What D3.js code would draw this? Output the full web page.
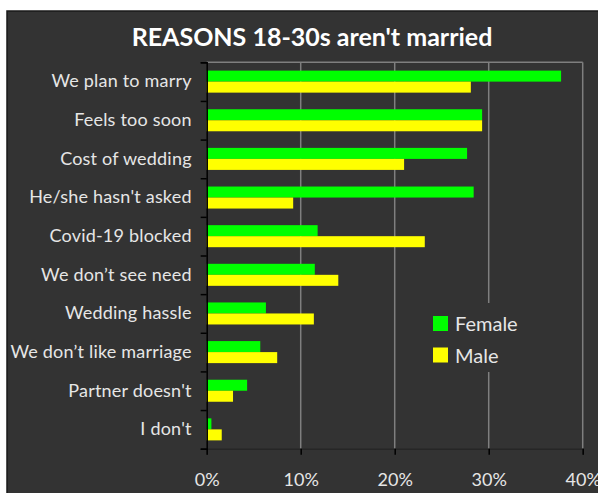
<!DOCTYPE html>
<html>
<head>
<meta charset="utf-8">
<script src="https://cdn.jsdelivr.net/npm/d3@7"></script>
<style>
  body { margin: 0; background: #fff; }
  text { font-family: Lato, 'Open Sans', sans-serif; }
</style>
</head>
<body>
<svg id="chart" width="598" height="493"></svg>
<script>
const categories = [
  'We plan to marry', 'Feels too soon', 'Cost of wedding', "He/she hasn't asked",
  'Covid-19 blocked', 'We don\u2019t see need ', 'Wedding hassle',
  'We don\u2019t like marriage', "Partner doesn't", "I don't"
]
const female = [37.7, 29.3, 27.7, 28.4, 11.8, 11.5, 6.3, 5.7, 4.3, 0.5]
const male = [28.1, 29.3, 21.0, 9.2, 23.2, 14.0, 11.4, 7.5, 2.8, 1.6]
const xTicks = [0, 10, 20, 30, 40]
const seriesNames = ['Female', 'Male']
const colors = { Female: '#00ff00', Male: '#ffff00' }

const svg = d3.select('#chart')

const plotLeft = 206.7
const plotRight = 582.7
const plotTop = 62.3
const plotBottom = 448.7

svg.append('rect')
  .attr('x', 7).attr('y', 11)
  .attr('width', 598).attr('height', 490)
  .attr('fill', '#333333')
  .attr('stroke', '#1a1a1a')
  .attr('stroke-width', 1.5)

svg.append('text')
  .attr('x', 312).attr('y', 46)
  .attr('text-anchor', 'middle')
  .attr('fill', '#ffffff')
  .style('font-size', '25px')
  .style('font-weight', 'bold')
  .text("REASONS 18-30s aren't married")

const x = d3.scaleLinear().domain([0, 40]).range([plotLeft, plotRight])
const y = d3.scaleBand().domain(categories).range([plotTop, plotBottom])
  .paddingInner(0.43).paddingOuter(0.215)
const ySub = d3.scaleBand().domain(seriesNames).range([0, y.bandwidth()])

// gridlines + plot border
svg.append('g').selectAll('line')
  .data(xTicks.slice(1))
  .enter().append('line')
  .attr('x1', d => x(d)).attr('x2', d => x(d))
  .attr('y1', plotTop).attr('y2', plotBottom)
  .attr('stroke', '#7f7f7f')
  .attr('stroke-width', 1.5)

svg.append('line')
  .attr('x1', plotLeft).attr('x2', plotRight)
  .attr('y1', plotTop).attr('y2', plotTop)
  .attr('stroke', '#7f7f7f')
  .attr('stroke-width', 1.5)

// bars
const rows = categories.map((c, i) => ({ cat: c, Female: female[i], Male: male[i] }))
const g = svg.append('g').selectAll('g').data(rows).enter().append('g')
  .attr('transform', d => `translate(0,${y(d.cat)})`)

g.selectAll('rect')
  .data(d => seriesNames.map(s => ({ s, v: d[s] })))
  .enter().append('rect')
  .attr('x', x(0))
  .attr('y', d => ySub(d.s))
  .attr('width', d => x(d.v) - x(0))
  .attr('height', ySub.bandwidth())
  .attr('fill', d => colors[d.s])

// x axis
const xAxis = svg.append('g')
  .attr('transform', `translate(0,${plotBottom})`)
  .call(d3.axisBottom(x).tickValues(xTicks).tickFormat(d => d + '%').tickSize(6).tickPadding(19))
xAxis.select('.domain').attr('stroke', '#262626').attr('stroke-width', 1.5)
xAxis.selectAll('.tick line').attr('stroke', '#000').attr('stroke-width', 1.5)
xAxis.selectAll('text').attr('fill', '#e6e6e6').style('font-size', '18px')

// y axis labels
const yAxis = svg.append('g')
  .attr('transform', `translate(${plotLeft},0)`)
  .call(d3.axisLeft(y).tickSize(0).tickPadding(15))
yAxis.select('.domain').remove()
yAxis.selectAll('text').attr('fill', '#e6e6e6')
  .style('font-size', '18px').style('letter-spacing', '0.2px')

// y axis line and ticks at band boundaries
const yIdx = d3.scaleLinear().domain([0, categories.length]).range([plotTop, plotBottom])
const yTicks = svg.append('g')
  .attr('transform', `translate(${plotLeft},0)`)
  .call(d3.axisLeft(yIdx).ticks(categories.length).tickFormat('').tickSize(6).tickSizeOuter(6))
yTicks.selectAll('path, line').attr('stroke', '#000').attr('stroke-width', 1.5)

// legend
const legend = svg.append('g')
legend.append('rect')
  .attr('x', 425).attr('y', 303)
  .attr('width', 120).attr('height', 69)
  .attr('fill', '#333333')
const li = legend.selectAll('g.item').data(seriesNames).enter().append('g')
  .attr('class', 'item')
  .attr('transform', (d, i) => `translate(433,${316 + i * 31.5})`)
li.append('rect')
  .attr('width', 15).attr('height', 15)
  .attr('fill', d => colors[d])
li.append('text')
  .attr('x', 22).attr('y', 15)
  .attr('fill', '#e6e6e6')
  .style('font-size', '20px')
  .text(d => d)
</script>
</body>
</html>
